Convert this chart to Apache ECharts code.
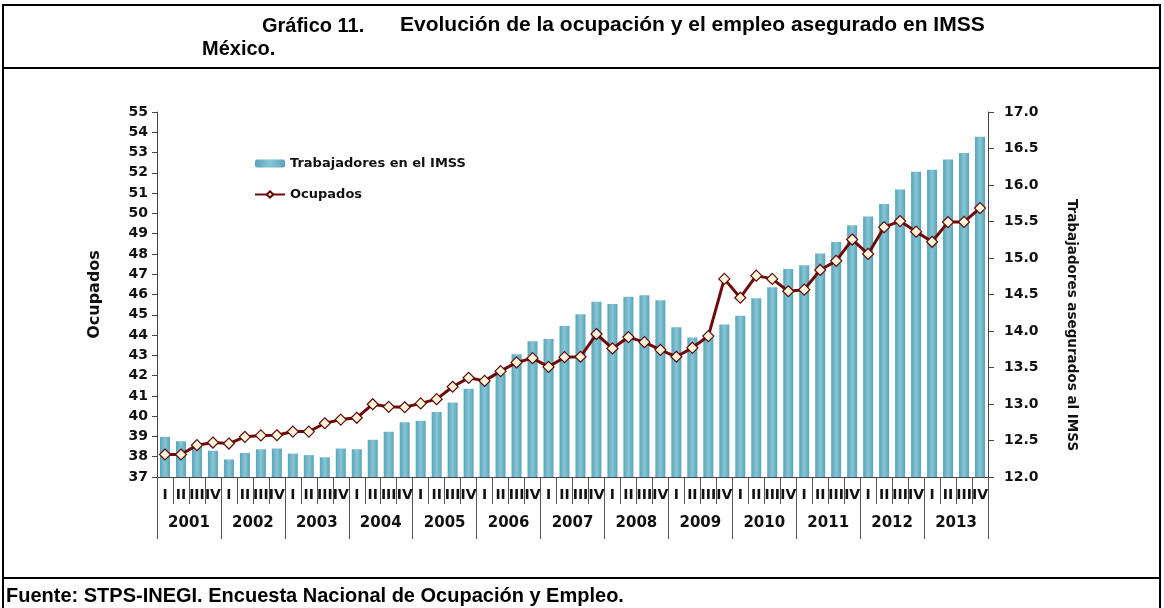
<!DOCTYPE html>
<html>
<head>
<meta charset="utf-8">
<script src="https://cdn.jsdelivr.net/npm/echarts@6/dist/echarts.min.js"></script>
<style>
  html, body { margin: 0; padding: 0; background: #fff; }
  #chart { width: 1164px; height: 608px; }
</style>
</head>
<body>
<div id="chart"></div>
<script>
// Data (quarterly, 2001 I .. 2013 IV)
const quarters = [];
const years = ['2001', '2002', '2003', '2004', '2005', '2006', '2007', '2008', '2009', '2010', '2011', '2012', '2013'];
years.forEach(() => quarters.push('I', 'II', 'III', 'IV'));

// Ocupados (millones) - left axis
const ocupados = [
    38.11, 38.11, 38.57, 38.70, 38.65, 38.98, 39.05, 39.06, 39.24, 39.24,
    39.65, 39.83, 39.92, 40.59, 40.46, 40.44, 40.63, 40.84, 41.45, 41.89,
    41.74, 42.22, 42.65, 42.86, 42.43, 42.91, 42.93, 44.05, 43.34, 43.90,
    43.65, 43.27, 42.93, 43.37, 43.95, 46.77, 45.84, 46.93, 46.77, 46.16,
    46.24, 47.21, 47.66, 48.71, 48.00, 49.32, 49.62, 49.10, 48.60, 49.57,
    49.58, 50.26
];

// Trabajadores asegurados al IMSS (millones) - right axis
const trabajadores = [
    12.55, 12.49, 12.45, 12.36, 12.24, 12.33, 12.38, 12.39, 12.32, 12.30,
    12.27, 12.39, 12.38, 12.51, 12.62, 12.75, 12.77, 12.89, 13.02, 13.21,
    13.30, 13.41, 13.68, 13.86, 13.89, 14.07, 14.23, 14.40, 14.37, 14.47,
    14.49, 14.42, 14.05, 13.91, 13.92, 14.09, 14.21, 14.45, 14.60, 14.85,
    14.90, 15.06, 15.22, 15.45, 15.57, 15.74, 15.94, 16.18, 16.21, 16.35,
    16.44, 16.66
];

const titleNumber = 'Gráfico 11.';
const titleText = 'Evolución de la ocupación y el empleo asegurado en IMSS';
const titleLine2 = 'México.';
const footnote = 'Fuente: STPS-INEGI. Encuesta Nacional de Ocupación y Empleo.';
const rightAxisName = 'Trabajadores asegurados al IMSS';

const AXIS_FONT = 'DejaVu Sans';
const TEXT_FONT = 'Liberation Sans';

const chart = echarts.init(document.getElementById('chart'), null, { renderer: 'canvas' });

const barColor = new echarts.graphic.LinearGradient(0, 0, 1, 0, [
    { offset: 0, color: '#5aa3b7' },
    { offset: 0.5, color: '#86c6d7' },
    { offset: 1, color: '#5aa3b7' }
]);

chart.setOption({
    animation: false,
    backgroundColor: '#fff',
    grid: { left: 157, right: 176, top: 112, bottom: 131 },
    legend: {
        orient: 'vertical',
        left: 249,
        top: 152,
        itemGap: 18,
        itemWidth: 30,
        itemHeight: 8,
        textStyle: { fontFamily: AXIS_FONT, fontWeight: 'bold', fontSize: 13, color: '#111' },
        data: ['Trabajadores en el IMSS', 'Ocupados']
    },
    xAxis: [
        {
            type: 'category',
            data: quarters,
            position: 'bottom',
            axisLine: { show: true, lineStyle: { color: '#444', width: 1 } },
            axisTick: { show: true, interval: 0, length: 27, lineStyle: { color: '#555' } },
            axisLabel: {
                interval: 0, margin: 11,
                fontFamily: AXIS_FONT, fontWeight: 'bold', fontSize: 14, color: '#111'
            }
        },
        {
            type: 'category',
            data: years,
            position: 'bottom',
            axisLine: { show: false },
            axisTick: { show: true, interval: 0, length: 62, lineStyle: { color: '#555' } },
            axisLabel: {
                interval: 0, margin: 39,
                fontFamily: AXIS_FONT, fontWeight: 'bold', fontSize: 15, color: '#111'
            }
        }
    ],
    yAxis: [
        {
            type: 'value',
            position: 'left',
            min: 37, max: 55, interval: 1,
            name: 'Ocupados',
            nameLocation: 'middle',
            nameGap: 54,
            nameRotate: 90,
            nameTextStyle: { fontFamily: AXIS_FONT, fontWeight: 'bold', fontSize: 16, color: '#111' },
            axisLine: { show: true, lineStyle: { color: '#444' } },
            axisTick: { show: true, length: 5, lineStyle: { color: '#444' } },
            axisLabel: { margin: 9, fontFamily: AXIS_FONT, fontWeight: 'bold', fontSize: 14, color: '#111' },
            splitLine: { show: false }
        },
        {
            type: 'value',
            position: 'right',
            min: 12, max: 17, interval: 0.5,
            axisLine: { show: true, lineStyle: { color: '#444' } },
            axisTick: { show: true, length: 6, lineStyle: { color: '#444' } },
            axisLabel: {
                margin: 16, fontFamily: AXIS_FONT, fontWeight: 'bold', fontSize: 14, color: '#111',
                formatter: v => v.toFixed(1)
            },
            splitLine: { show: false }
        }
    ],
    series: [
        {
            name: 'Trabajadores en el IMSS',
            type: 'bar',
            yAxisIndex: 1,
            barWidth: 10,
            itemStyle: { color: barColor },
            data: trabajadores
        },
        {
            name: 'Ocupados',
            type: 'line',
            yAxisIndex: 0,
            symbol: 'diamond',
            symbolSize: 11,
            lineStyle: { color: '#6e0c0c', width: 3 },
            itemStyle: { color: '#fff3d8', borderColor: '#5e0a0a', borderWidth: 1.2 },
            data: ocupados
        }
    ],
    graphic: [
        // frame
        { type: 'rect', shape: { x: 3, y: 5, width: 1157, height: 640 }, style: { fill: 'none', stroke: '#000', lineWidth: 2 }, silent: true },
        { type: 'line', shape: { x1: 3, y1: 68, x2: 1160, y2: 68 }, style: { stroke: '#000', lineWidth: 2 }, silent: true },
        { type: 'line', shape: { x1: 3, y1: 578, x2: 1160, y2: 578 }, style: { stroke: '#000', lineWidth: 2 }, silent: true },
        // title
        {
            type: 'text', left: 262, top: 16,
            style: { text: titleNumber, fontFamily: TEXT_FONT, fontWeight: 'bold', fontSize: 20, fill: '#000' }
        },
        {
            type: 'text', left: 400, top: 15,
            style: { text: titleText, fontFamily: TEXT_FONT, fontWeight: 'bold', fontSize: 21, fill: '#000' }
        },
        {
            type: 'text', left: 202, top: 39,
            style: { text: titleLine2, fontFamily: TEXT_FONT, fontWeight: 'bold', fontSize: 20, fill: '#000' }
        },
        // right axis title (sits lower than the axis middle in the reference)
        {
            type: 'text', x: 1071, y: 325, rotation: -Math.PI / 2,
            style: {
                text: rightAxisName, fontFamily: AXIS_FONT, fontWeight: 'bold', fontSize: 13.5, fill: '#111',
                align: 'center', verticalAlign: 'middle'
            }
        },
        // source
        {
            type: 'text', left: 6, top: 586,
            style: { text: footnote, fontFamily: TEXT_FONT, fontWeight: 'bold', fontSize: 20, fill: '#000' }
        }
    ]
});
</script>
</body>
</html>
